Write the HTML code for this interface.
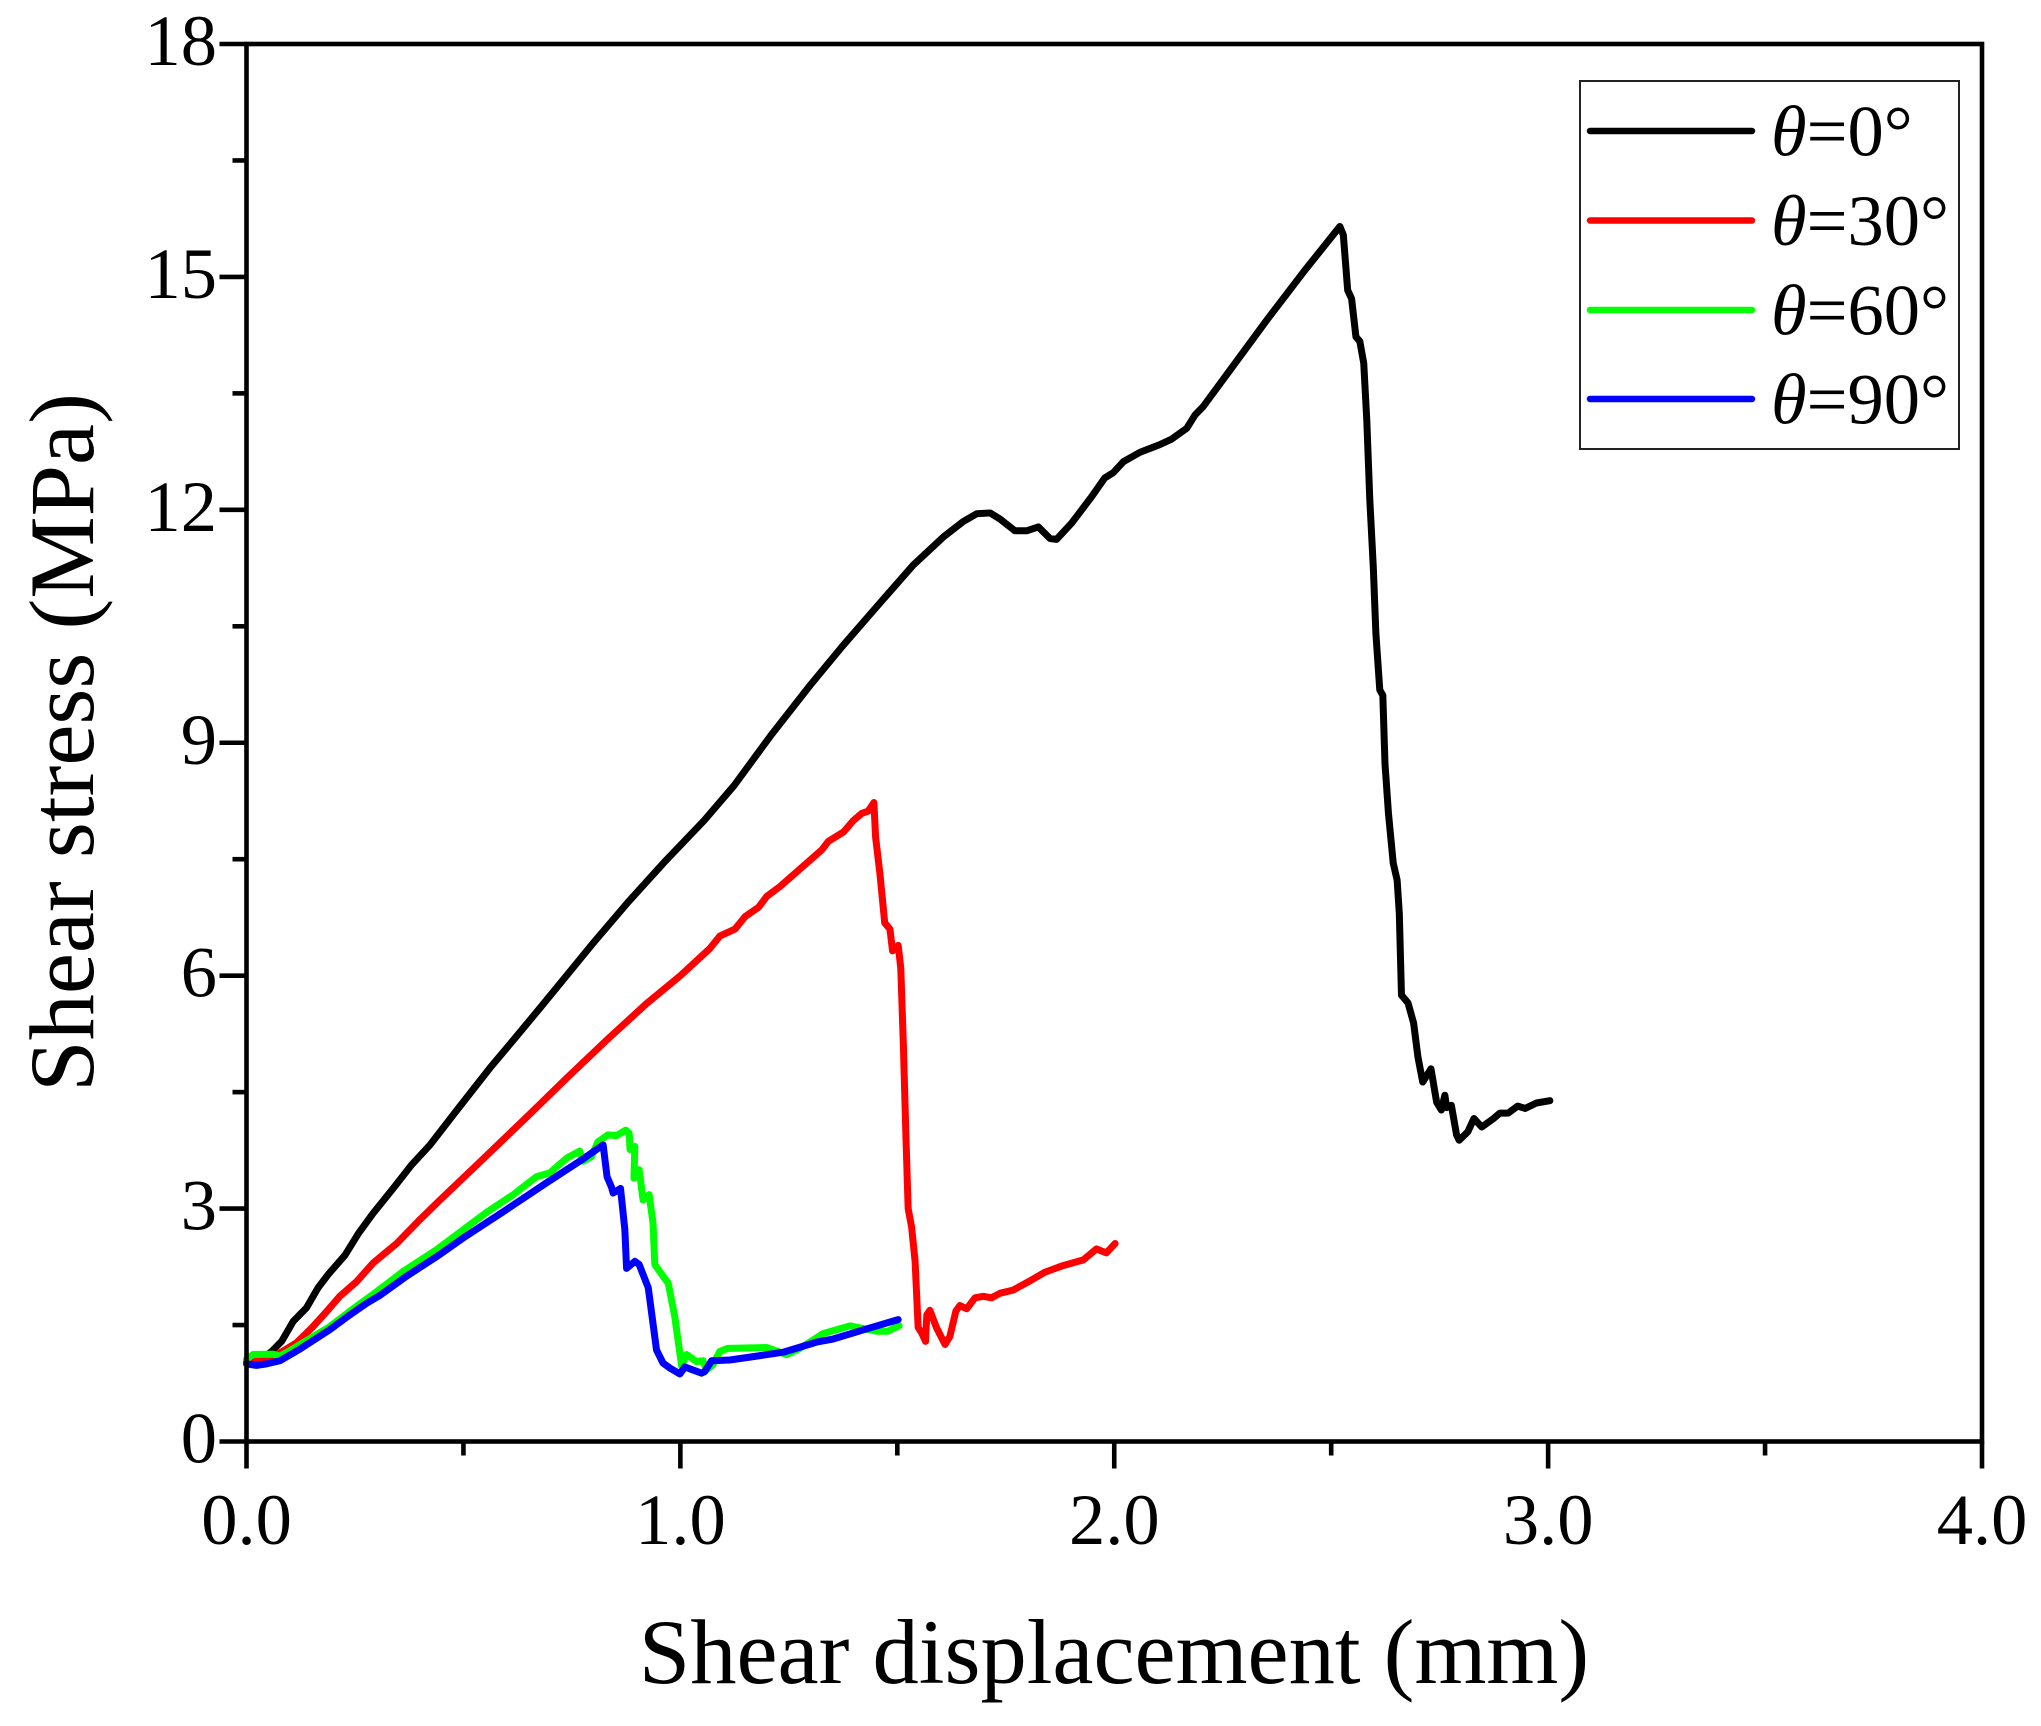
<!DOCTYPE html>
<html lang="en">
<head>
<meta charset="utf-8">
<title>Shear stress vs shear displacement</title>
<style>
html,body{margin:0;padding:0;background:#fff;}
svg{display:block;}
text{font-family:"Liberation Serif","Times New Roman",serif;fill:#000;}
</style>
</head>
<body>
<svg id="chart" width="2041" height="1726" viewBox="0 0 2041 1726" xmlns="http://www.w3.org/2000/svg">
  <rect x="0" y="0" width="2041" height="1726" fill="#ffffff"/>
  <g id="series-layer"></g>
  <g id="axis-layer"></g>
  <text x="1114" y="1683" font-size="92.5" text-anchor="middle">Shear displacement (mm)</text>
  <text transform="translate(93 742.5) rotate(-90)" font-size="92.5" text-anchor="middle">Shear stress (MPa)</text>
  <g id="legend">
    <rect x="1580" y="81" width="379" height="368" fill="#fff" stroke="#222" stroke-width="2"/>
    <g>
      <line x1="1590" x2="1752" y1="131" y2="131" stroke="#000" stroke-width="6.5" stroke-linecap="round"/>
      <text x="1771" y="155.5" font-size="72.5"><tspan font-style="italic">θ</tspan>=0°</text>
    </g>
    <g>
      <line x1="1590" x2="1752" y1="220.5" y2="220.5" stroke="#ff0000" stroke-width="6.5" stroke-linecap="round"/>
      <text x="1771" y="245" font-size="72.5"><tspan font-style="italic">θ</tspan>=30°</text>
    </g>
    <g>
      <line x1="1590" x2="1752" y1="310" y2="310" stroke="#00ff00" stroke-width="6.5" stroke-linecap="round"/>
      <text x="1771" y="334.5" font-size="72.5"><tspan font-style="italic">θ</tspan>=60°</text>
    </g>
    <g>
      <line x1="1590" x2="1752" y1="399" y2="399" stroke="#0000ff" stroke-width="6.5" stroke-linecap="round"/>
      <text x="1771" y="423.5" font-size="72.5"><tspan font-style="italic">θ</tspan>=90°</text>
    </g>
  </g>
</svg>
<script>
const xMajorTicks = [0, 1, 2, 3, 4];
const xMajorLabels = ["0.0", "1.0", "2.0", "3.0", "4.0"];
const xMinorTicks = [0.5, 1.5, 2.5, 3.5];
const yMajorTicks = [0, 3, 6, 9, 12, 15, 18];
const yMajorLabels = ["0", "3", "6", "9", "12", "15", "18"];
const yMinorTicks = [1.5, 4.5, 7.5, 10.5, 13.5, 16.5];

const theta0X = [0,.027,.058,.081,.108,.138,.165,.188,.227,.258,.292,.338,.38,.423,.488,.561,.615,.676,.742,.799,.88,.961,1.055,1.124,1.208,1.299,1.376,1.46,1.537,1.606,1.652,1.683,1.714,1.737,1.771,1.798,1.825,1.852,1.867,1.902,1.948,1.978,1.998,2.021,2.059,2.105,2.132,2.167,2.186,2.205,2.259,2.309,2.351,2.44,2.52,2.528,2.538,2.547,2.557,2.566,2.575,2.582,2.589,2.597,2.603,2.612,2.619,2.624,2.632,2.643,2.652,2.657,2.662,2.677,2.69,2.70,2.711,2.73,2.743,2.754,2.762,2.766,2.777,2.789,2.795,2.815,2.829,2.847,2.874,2.889,2.908,2.93,2.947,2.973,3.004];
const theta0Y = [1.03,1.03,1.16,1.29,1.55,1.72,1.98,2.15,2.40,2.68,2.94,3.26,3.56,3.82,4.29,4.81,5.17,5.58,6.03,6.42,6.95,7.45,8.0,8.45,9.09,9.74,10.26,10.8,11.29,11.65,11.85,11.95,11.96,11.88,11.73,11.73,11.78,11.63,11.62,11.83,12.17,12.41,12.48,12.62,12.74,12.84,12.91,13.05,13.22,13.33,13.74,14.12,14.44,15.09,15.65,15.54,14.83,14.72,14.23,14.17,13.89,13.16,12.13,11.27,10.41,9.68,9.61,8.73,8.09,7.45,7.23,6.80,5.75,5.65,5.39,4.95,4.63,4.8,4.37,4.27,4.46,4.3,4.33,3.95,3.88,3.99,4.16,4.05,4.16,4.23,4.23,4.32,4.29,4.36,4.39];

const theta30X = [0,.038,.077,.115,.15,.184,.215,.254,.292,.346,.40,.446,.538,.646,.738,.83,.922,1.0,1.068,1.091,1.126,1.149,1.18,1.199,1.23,1.326,1.341,1.376,1.399,1.418,1.433,1.446,1.45,1.46,1.471,1.483,1.489,1.502,1.508,1.514,1.52,1.525,1.533,1.541,1.548,1.556,1.565,1.568,1.575,1.59,1.61,1.621,1.635,1.644,1.66,1.679,1.698,1.717,1.737,1.767,1.806,1.84,1.879,1.929,1.959,1.982,2.002];
const theta30Y = [1.03,1.04,1.14,1.27,1.46,1.67,1.87,2.06,2.30,2.55,2.86,3.11,3.60,4.18,4.68,5.17,5.64,6.0,6.35,6.51,6.6,6.76,6.88,7.02,7.15,7.62,7.73,7.85,8.0,8.09,8.12,8.23,7.78,7.31,6.68,6.60,6.32,6.39,6.10,5.10,3.90,3.0,2.76,2.32,1.47,1.40,1.29,1.63,1.69,1.47,1.25,1.35,1.68,1.75,1.71,1.85,1.87,1.85,1.91,1.95,2.07,2.18,2.26,2.34,2.48,2.43,2.55];

const theta60X = [0,.015,.061,.077,.10,.192,.253,.30,.361,.438,.553,.615,.668,.699,.738,.768,.776,.795,.81,.833,.853,.874,.882,.884,.895,.893,.905,.914,.928,.937,.941,.96,.972,.987,1.003,1.014,1.037,1.052,1.06,1.075,1.091,1.11,1.199,1.245,1.276,1.329,1.391,1.452,1.478,1.504];
const theta60Y = [1.06,1.12,1.125,1.10,1.17,1.48,1.74,1.93,2.19,2.47,2.95,3.18,3.41,3.46,3.65,3.74,3.61,3.67,3.86,3.95,3.94,4.01,3.97,3.76,3.8,3.39,3.5,3.11,3.18,2.81,2.28,2.13,2.04,1.61,.97,1.12,1.03,1.04,.92,.99,1.16,1.2,1.21,1.12,1.2,1.39,1.49,1.42,1.42,1.49];

const theta90X = [0,.023,.046,.077,.123,.192,.238,.277,.307,.369,.438,.499,.592,.691,.768,.822,.831,.841,.845,.862,.872,.876,.895,.905,.926,.945,.96,.976,.999,1.01,1.049,1.056,1.072,1.114,1.176,1.237,1.314,1.352,1.429,1.502];
const theta90Y = [1.0,.98,1.0,1.04,1.19,1.44,1.63,1.78,1.88,2.13,2.38,2.62,2.96,3.33,3.61,3.82,3.41,3.28,3.20,3.26,2.73,2.23,2.32,2.28,1.98,1.18,1.01,.945,.87,.96,.88,.90,1.04,1.05,1.10,1.15,1.28,1.32,1.45,1.57];

const NS = "http://www.w3.org/2000/svg";
const plotLeft = 246.5, plotRight = 1982, plotTop = 44, plotBottom = 1441.5;
function xScale(v) { return plotLeft + (v - 0) / 4 * (plotRight - plotLeft); }
function yScale(v) { return plotBottom - v / 18 * (plotBottom - plotTop); }

function makeSvg(tag, attrs) {
  const el = document.createElementNS(NS, tag);
  for (const k in attrs) el.setAttribute(k, attrs[k]);
  return el;
}

const seriesLayer = document.getElementById("series-layer");
function drawSeries(xs, ys, color, name) {
  const d = xs.map((v, i) => (i ? "L" : "M") + xScale(v).toFixed(2) + " " + yScale(ys[i]).toFixed(2)).join(" ");
  const path = makeSvg("path", {d: d, fill: "none", stroke: color, "stroke-width": 7, "stroke-linejoin": "round", "stroke-linecap": "round"});
  
  
  seriesLayer.appendChild(path);
}
drawSeries(theta0X, theta0Y, "#000000", "series-theta-0");
drawSeries(theta30X, theta30Y, "#ff0000", "series-theta-30");
drawSeries(theta60X, theta60Y, "#00ff00", "series-theta-60");
drawSeries(theta90X, theta90Y, "#0000ff", "series-theta-90");

const axisLayer = document.getElementById("axis-layer");
const frame = makeSvg("rect", {x: plotLeft, y: plotTop, width: plotRight - plotLeft, height: plotBottom - plotTop, fill: "none", stroke: "#000", "stroke-width": 4.6});


axisLayer.appendChild(frame);

xMajorTicks.forEach(function (t, i) {
  const tick = makeSvg("line", {x1: xScale(t), x2: xScale(t), y1: plotBottom, y2: plotBottom + 27, stroke: "#000", "stroke-width": 4.6});
  
  
  axisLayer.appendChild(tick);
  const label = makeSvg("text", {x: xScale(t), y: 1544, "font-size": 72.5, "text-anchor": "middle"});
  label.textContent = xMajorLabels[i];
  
  
  axisLayer.appendChild(label);
});
xMinorTicks.forEach(function (t) {
  const tick = makeSvg("line", {x1: xScale(t), x2: xScale(t), y1: plotBottom, y2: plotBottom + 14, stroke: "#000", "stroke-width": 4.6});
  
  
  axisLayer.appendChild(tick);
});
yMajorTicks.forEach(function (t, i) {
  const tick = makeSvg("line", {x1: plotLeft - 27, x2: plotLeft, y1: yScale(t), y2: yScale(t), stroke: "#000", "stroke-width": 4.6});
  
  
  axisLayer.appendChild(tick);
  const label = makeSvg("text", {x: 217, y: yScale(t) + 21, "font-size": 72.5, "text-anchor": "end"});
  label.textContent = yMajorLabels[i];
  
  
  axisLayer.appendChild(label);
});
yMinorTicks.forEach(function (t) {
  const tick = makeSvg("line", {x1: plotLeft - 14, x2: plotLeft, y1: yScale(t), y2: yScale(t), stroke: "#000", "stroke-width": 4.6});
  
  
  axisLayer.appendChild(tick);
});
</script>
</body>
</html>
